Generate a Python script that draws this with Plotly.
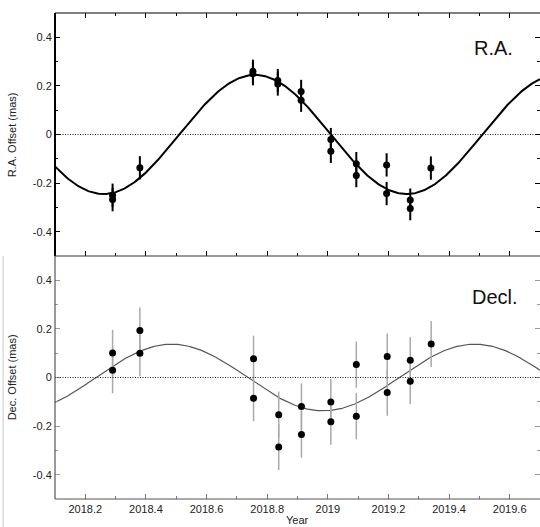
import numpy as np
import plotly.graph_objects as go

# ---------------- data ----------------
ra_year = [2018.29, 2018.29, 2018.38, 2018.753, 2018.753, 2018.835, 2018.835,
           2018.912, 2018.912, 2019.01, 2019.01, 2019.094, 2019.094,
           2019.194, 2019.194, 2019.272, 2019.272, 2019.34]
ra_offset = [-0.25, -0.268, -0.137, 0.26, 0.25, 0.222, 0.208,
             0.177, 0.141, -0.021, -0.069, -0.12, -0.169,
             -0.125, -0.243, -0.27, -0.305, -0.138]
ra_err = [0.048] * len(ra_year)

dec_year = [2018.29, 2018.29, 2018.38, 2018.38, 2018.755, 2018.755,
            2018.838, 2018.838, 2018.913, 2018.913, 2019.01, 2019.01,
            2019.094, 2019.094, 2019.196, 2019.196, 2019.272, 2019.272, 2019.341]
dec_offset = [0.101, 0.03, 0.193, 0.1, 0.077, -0.085,
              -0.153, -0.286, -0.119, -0.235, -0.101, -0.182,
              0.053, -0.159, 0.086, -0.062, 0.071, -0.015, 0.138]
dec_err = [0.095] * len(dec_year)

# fitted sinusoidal model parameters
ra_amp, ra_epoch = 0.245, 2018.51
dec_amp, dec_epoch = 0.137, 2018.235
model_period = 1.0

x_range = [2018.1, 2019.7]
y_range = [-0.5, 0.5]
x_tickvals = [2018.2, 2018.4, 2018.6, 2018.8, 2019.0, 2019.2, 2019.4, 2019.6]
x_ticktext = ["2018.2", "2018.4", "2018.6", "2018.8", "2019", "2019.2", "2019.4", "2019.6"]
y_tickvals = [-0.4, -0.2, 0, 0.2, 0.4]
y_ticktext = ["-0.4", "-0.2", "0", "0.2", "0.4"]

# ---------------- model curves ----------------
t_model = np.linspace(x_range[0], x_range[1], 400)
ra_model = ra_amp * np.sin(2 * np.pi * (t_model - ra_epoch) / model_period)
dec_model = dec_amp * np.sin(2 * np.pi * (t_model - dec_epoch) / model_period)

FONT = "Liberation Sans, Arial, Helvetica, sans-serif"
GRAY = "#777777"

fig = go.Figure()

# top panel (R.A.)
fig.add_trace(go.Scatter(x=t_model, y=ra_model, mode="lines",
                         line=dict(color="black", width=2), xaxis="x", yaxis="y",
                         hoverinfo="skip"))
fig.add_trace(go.Scatter(x=ra_year, y=ra_offset, mode="markers",
                         marker=dict(color="black", size=7),
                         error_y=dict(type="data", array=ra_err, color="black",
                                      thickness=2, width=0),
                         xaxis="x", yaxis="y"))
# bottom panel (Decl.)
fig.add_trace(go.Scatter(x=t_model, y=dec_model, mode="lines",
                         line=dict(color="#555555", width=1.2), xaxis="x2", yaxis="y2",
                         hoverinfo="skip"))
fig.add_trace(go.Scatter(x=dec_year, y=dec_offset, mode="markers",
                         marker=dict(color="black", size=7),
                         error_y=dict(type="data", array=dec_err, color="#aaaaaa",
                                      thickness=1.5, width=0),
                         xaxis="x2", yaxis="y2"))

def xaxis_cfg(anchor, labels, tickcolor, mirror):
    return dict(
        anchor=anchor, domain=[0, 1], range=x_range,
        tickmode="array", tickvals=x_tickvals, ticktext=x_ticktext,
        showticklabels=labels, ticks="inside", ticklen=5, tickwidth=1,
        tickcolor=tickcolor, showline=True, linecolor="rgba(0,0,0,0)",
        mirror=mirror, showgrid=False, zeroline=False,
        minor=dict(dtick=0.1, tick0=2018.1, ticks="inside", ticklen=3,
                   tickcolor=tickcolor, showgrid=False),
        tickfont=dict(family=FONT, size=11, color="#222222"),
    )

def yaxis_cfg(anchor, domain, tickcolor):
    return dict(
        anchor=anchor, domain=domain, range=y_range,
        tickmode="array", tickvals=y_tickvals, ticktext=y_ticktext,
        ticks="inside", ticklen=5, tickwidth=1, tickcolor=tickcolor,
        showline=True, linecolor="rgba(0,0,0,0)", mirror="ticks",
        showgrid=False, zeroline=False,
        minor=dict(dtick=0.1, tick0=0, ticks="inside", ticklen=3,
                   tickcolor=tickcolor, showgrid=False),
        tickfont=dict(family=FONT, size=11, color="#222222"),
    )

shapes = []
# zero lines (fine dotted)
for xr, yr in (("x domain", "y"), ("x2 domain", "y2")):
    shapes.append(dict(type="line", xref=xr, yref=yr, x0=0, x1=1, y0=0, y1=0,
                       line=dict(color="#222222", width=1, dash="1px,1.5px")))
# top frame (black), paper coords: top panel occupies y 0.5..1
shapes += [
    dict(type="line", xref="paper", yref="paper", x0=0, x1=0, y0=0.5, y1=1,
         line=dict(color="black", width=2)),
    dict(type="line", xref="paper", yref="paper", x0=0, x1=1, y0=1, y1=1,
         line=dict(color="black", width=1.2)),
    dict(type="line", xref="paper", yref="paper", x0=0, x1=1, y0=0.5, y1=0.5,
         line=dict(color="#333333", width=1.2)),
]
# bottom frame (gray)
shapes += [
    dict(type="line", xref="paper", yref="paper", x0=0, x1=0, y0=0, y1=0.5,
         line=dict(color="#555555", width=1.2)),
    dict(type="line", xref="paper", yref="paper", x0=0, x1=1, y0=0, y1=0,
         line=dict(color="#555555", width=1.2)),
]
# faint scan edge at far left
shapes.append(dict(type="line", xref="paper", yref="paper", x0=-0.107, x1=-0.107,
                   y0=-0.1, y1=0.5, line=dict(color="#cccccc", width=1)))

annotations = [
    dict(text="R.A.", xref="paper", yref="paper", x=0.904, y=0.929,
         xanchor="center", yanchor="middle", showarrow=False,
         font=dict(family=FONT, size=20, color="#111111")),
    dict(text="Decl.", xref="paper", yref="paper", x=0.907, y=0.416,
         xanchor="center", yanchor="middle", showarrow=False,
         font=dict(family=FONT, size=20, color="#111111")),
    dict(text="R.A. Offset (mas)", xref="paper", yref="paper", x=-0.089, y=0.75,
         xanchor="center", yanchor="middle", textangle=-90, showarrow=False,
         font=dict(family=FONT, size=11, color="#222222")),
    dict(text="Dec. Offset (mas)", xref="paper", yref="paper", x=-0.089, y=0.25,
         xanchor="center", yanchor="middle", textangle=-90, showarrow=False,
         font=dict(family=FONT, size=11, color="#222222")),
    dict(text="Year", xref="paper", yref="paper", x=0.5, y=-0.044,
         xanchor="center", yanchor="middle", showarrow=False,
         font=dict(family=FONT, size=11, color="#222222")),
]

fig.update_layout(
    width=540, height=527,
    margin=dict(l=55, r=0, t=13, b=28),
    paper_bgcolor="white", plot_bgcolor="white",
    showlegend=False,
    xaxis=xaxis_cfg("y", False, "black", "ticks"),
    yaxis=yaxis_cfg("x", [0.5, 1], "black"),
    xaxis2=xaxis_cfg("y2", True, GRAY, False),
    yaxis2=yaxis_cfg("x2", [0, 0.5], "#999999"),
    shapes=shapes,
    annotations=annotations,
)

fig.write_html("out.html", config={"displayModeBar": False},
               post_script="document.body.style.margin='0px';document.body.style.padding='0px';")
